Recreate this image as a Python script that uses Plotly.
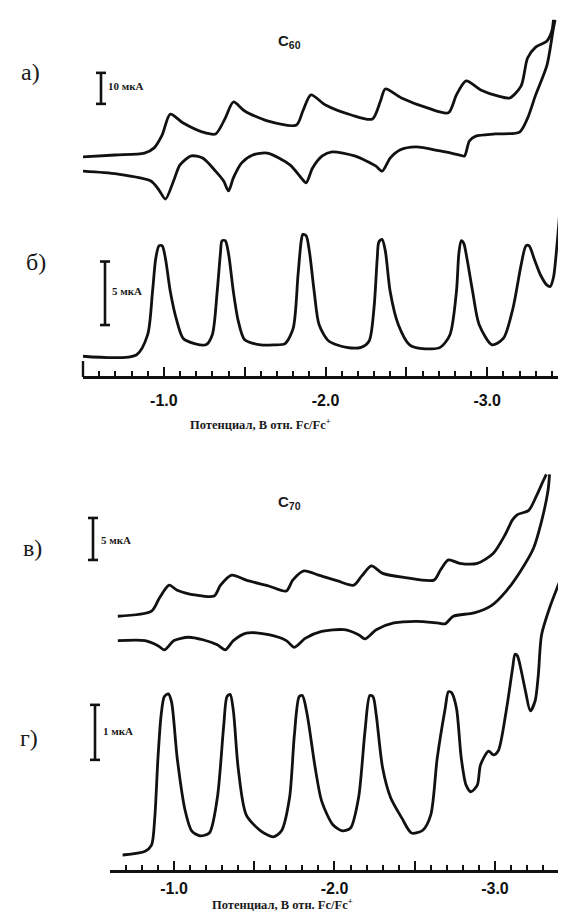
import plotly.graph_objects as go

W, H = 566, 911

# ---------------- data (potential, V vs Fc/Fc+; current, uA) ----------------
C60_CV_FWD_E = [-0.50, -0.70, -0.88, -0.94, -0.99, -1.04, -1.12, -1.24, -1.32, -1.38, -1.43, -1.50, -1.64, -1.82, -1.86,
                -1.91, -2.00, -2.16, -2.29, -2.34, -2.37, -2.47, -2.63, -2.76, -2.81, -2.87, -2.96, -3.07, -3.14, -3.21,
                -3.25, -3.30, -3.37, -3.40, -3.41]
C60_CV_FWD_I = [2.3, 2.9, 3.5, 5.2, 9.4, 16.1, 13.2, 10.3, 9.7, 14.8, 20.0, 17.1, 13.9, 12.6, 17.1,
                22.3, 19.0, 15.8, 14.5, 20.3, 24.2, 21.3, 18.1, 16.5, 22.3, 26.8, 23.9, 21.9, 21.3, 25.2,
                34.2, 37.7, 39.7, 42.9, 46.5]
C60_CV_REV_E = [-0.50, -0.71, -0.92, -0.97, -1.01, -1.06, -1.10, -1.17, -1.24, -1.32, -1.37, -1.40, -1.43, -1.48, -1.55,
                -1.64, -1.78, -1.85, -1.88, -1.92, -1.98, -2.04, -2.18, -2.31, -2.35, -2.40, -2.46, -2.56, -2.71, -2.83,
                -2.86, -2.89, -2.93, -3.05, -3.20, -3.25, -3.30, -3.37, -3.41, -3.42]
C60_CV_REV_I = [-2.3, -3.2, -5.5, -8.4, -11.3, -5.5, -0.3, 2.6, 1.9, -2.3, -5.5, -8.7, -4.5, 0.3, 2.9,
                3.5, -0.3, -4.5, -6.1, -1.3, 2.6, 3.9, 2.6, -0.6, -2.3, 1.9, 4.5, 5.5, 4.2, 2.9,
                2.6, 7.4, 9.0, 9.7, 10.3, 14.8, 22.3, 31.9, 43.9, 46.5]

C60_DPV_E = [-0.50, -0.83, -0.90, -0.93, -0.95, -0.97, -0.99, -1.01, -1.04, -1.08, -1.12, -1.19, -1.26,
             -1.30, -1.33, -1.35, -1.36, -1.38, -1.40, -1.43, -1.46, -1.50, -1.60, -1.68, -1.75,
             -1.80, -1.83, -1.85, -1.86, -1.88, -1.90, -1.93, -1.96, -2.02, -2.13, -2.22,
             -2.27, -2.30, -2.32, -2.33, -2.35, -2.37, -2.40, -2.45, -2.52, -2.60, -2.71,
             -2.77, -2.81, -2.825, -2.84, -2.855, -2.875, -2.91, -2.95, -3.03, -3.10,
             -3.16, -3.21, -3.24, -3.26, -3.29, -3.33, -3.37, -3.39, -3.41, -3.43, -3.45, -3.455]
C60_DPV_I = [-0.1, 0.0, 1.6, 5.0, 7.6, 8.6, 8.6, 7.6, 5.0, 2.7, 1.3, 0.9, 0.8,
             1.6, 5.0, 8.0, 9.0, 9.0, 8.0, 5.0, 2.7, 1.2, 0.8, 0.8, 0.9,
             2.1, 6.3, 9.0, 9.5, 9.4, 8.2, 5.0, 2.4, 1.1, 0.6, 0.6,
             1.1, 3.7, 7.6, 8.9, 9.1, 8.2, 5.0, 2.4, 0.8, 0.5, 0.6,
             1.6, 5.0, 8.0, 9.0, 8.8, 7.6, 5.0, 2.4, 0.8, 1.3,
             3.7, 7.1, 8.6, 8.6, 7.6, 6.3, 5.5, 5.4, 6.1, 8.4, 11.6, 15.5]

C70_CV_FWD_E = [-0.65, -0.86, -0.91, -0.97, -1.02, -1.14, -1.25, -1.29, -1.36, -1.45, -1.59, -1.70, -1.74, -1.81, -1.90,
                -2.02, -2.12, -2.17, -2.23, -2.30, -2.44, -2.62, -2.66, -2.71, -2.78, -2.89, -2.99, -3.06, -3.11, -3.14,
                -3.21, -3.26, -3.30, -3.32]
C70_CV_FWD_I = [1.4, 2.0, 3.6, 5.1, 4.5, 3.9, 3.8, 5.1, 6.3, 5.7, 5.0, 4.4, 5.7, 6.8, 6.3,
                5.6, 5.1, 6.2, 7.4, 6.5, 6.0, 5.7, 6.9, 8.1, 7.7, 7.7, 8.9, 11.0, 12.9, 13.5,
                14.0, 15.8, 17.5, 18.3]
C70_CV_REV_E = [-0.65, -0.82, -0.90, -0.94, -1.00, -1.09, -1.18, -1.27, -1.32, -1.37, -1.45, -1.59, -1.70, -1.75, -1.82,
                -1.92, -2.06, -2.15, -2.19, -2.26, -2.37, -2.51, -2.64, -2.69, -2.74, -2.87, -2.98, -3.07, -3.16, -3.24,
                -3.29, -3.33, -3.34]
C70_CV_REV_I = [-1.5, -1.5, -2.1, -2.6, -1.5, -1.1, -1.4, -2.0, -2.6, -1.5, -0.6, -0.8, -1.5, -2.3, -1.2,
                -0.4, -0.2, -0.8, -1.3, -0.2, 0.6, 0.8, 0.6, 0.5, 1.4, 1.8, 2.7, 4.4, 6.8, 9.5,
                12.7, 16.3, 18.3]

C70_DPV_E = [-0.68, -0.82, -0.86, -0.88, -0.90, -0.92, -0.94, -0.965, -0.985, -1.02, -1.07, -1.11, -1.16, -1.22, -1.27,
             -1.31, -1.33, -1.35, -1.37, -1.40, -1.45, -1.54, -1.62, -1.67, -1.72,
             -1.75, -1.78, -1.80, -1.83, -1.88, -1.92, -1.99, -2.05, -2.10, -2.15,
             -2.19, -2.22, -2.24, -2.26, -2.30, -2.35, -2.42, -2.48, -2.55, -2.60, -2.64,
             -2.69, -2.71, -2.73, -2.76, -2.79, -2.82, -2.85, -2.89, -2.91, -2.96, -2.99, -3.02, -3.07,
             -3.11, -3.125, -3.14, -3.16, -3.19, -3.22, -3.25, -3.27, -3.29, -3.34, -3.40]
C70_DPV_I = [0.0, 0.07, 0.18, 0.67, 1.76, 2.55, 2.88, 2.93, 2.78, 1.76, 0.80, 0.44, 0.35, 0.40, 1.04,
             2.36, 2.88, 2.92, 2.62, 1.58, 0.73, 0.44, 0.33, 0.44, 1.04,
             2.18, 2.88, 2.90, 2.55, 1.58, 0.98, 0.55, 0.44, 0.49, 1.04,
             2.25, 2.90, 2.88, 2.55, 1.58, 1.04, 0.67, 0.40, 0.45, 0.73, 1.76,
             2.67, 2.97, 2.95, 2.67, 1.76, 1.27, 1.15, 1.27, 1.64, 1.89, 1.82, 1.89, 2.62,
             3.40, 3.65, 3.62, 3.40, 2.98, 2.62, 2.80, 3.27, 4.00, 4.49, 4.95]

TICK_VALS = [-1.0, -1.5, -2.0, -2.5, -3.0]
TICK_TEXT = ["-1.0", "", "-2.0", "", "-3.0"]
PANEL_LABELS = ["а)", "б)", "в)", "г)"]
SCALE_LENGTHS = [10, 5, 5, 1]          # uA
SCALE_TEXT = ["10 мкА", "5 мкА", "5 мкА", "1 мкА"]
SCALE_BASES = [19.4, 2.36, 8.1, 1.73]  # uA, lower end of each scale bar
TITLES = ["C<sub>60</sub>", "C<sub>70</sub>"]
AXIS_TITLE = "Потенциал, В отн. Fc/Fc<sup>+</sup>"
X_RANGES = [[-0.5, -3.5], [-0.6, -3.45]]

# ---------------- layout helpers (pixel placement) ----------------
def px(x):
    return x / W

def py(y):
    return 1 - y / H

def yaxis_cfg(top, bottom, zero, ppu, anchor):
    return dict(domain=[py(bottom), py(top)],
                range=[(zero - bottom) / ppu, (zero - top) / ppu],
                visible=False, anchor=anchor, fixedrange=True)

LINE = "#111111"
lw = 2.8

fig = go.Figure()
def add(xs, ys, xa, ya):
    fig.add_trace(go.Scatter(x=xs, y=ys, xaxis=xa, yaxis=ya, mode="lines",
                             line=dict(color=LINE, width=lw, shape="spline", smoothing=0.75),
                             hoverinfo="skip", showlegend=False))

add(C60_CV_FWD_E, C60_CV_FWD_I, "x", "y")
add(C60_CV_REV_E, C60_CV_REV_I, "x", "y")
add(C60_DPV_E, C60_DPV_I, "x", "y2")
add(C70_CV_FWD_E, C70_CV_FWD_I, "x2", "y3")
add(C70_CV_REV_E, C70_CV_REV_I, "x2", "y3")
add(C70_DPV_E, C70_DPV_I, "x2", "y4")

def xaxis_cfg(dom, rng, pos_px, standoff):
    return dict(domain=dom, range=rng, anchor="free", position=py(pos_px),
                showline=True, linewidth=2.6, linecolor=LINE, showgrid=False, zeroline=False,
                ticks="inside", ticklen=9, tickwidth=2, tickcolor=LINE,
                tickmode="array", tickvals=TICK_VALS, ticktext=TICK_TEXT,
                minor=dict(dtick=0.1, tick0=0, ticks="inside", ticklen=5, tickwidth=1.6, tickcolor=LINE),
                tickfont=dict(family="Liberation Sans, Arial", size=16, color="#111111", weight="bold"),
                ticklabelstandoff=standoff, fixedrange=True)

fig.update_layout(
    width=W, height=H, margin=dict(l=0, r=0, t=0, b=0),
    paper_bgcolor="white", plot_bgcolor="rgba(0,0,0,0)", showlegend=False,
    xaxis=xaxis_cfg([px(75), px(560)], X_RANGES[0], 369, 8),
    xaxis2=xaxis_cfg([px(101.8), px(559.2)], X_RANGES[1], 863, 2),
    yaxis=yaxis_cfg(0, 215, 156, 3.1, "x"),
    yaxis2=yaxis_cfg(140, 360, 347, 12.7, "x"),
    yaxis3=yaxis_cfg(450, 660, 620, 8.4, "x2"),
    yaxis4=yaxis_cfg(560, 865, 847, 55, "x2"),
)

shapes = []
# tall end ticks of the upper axis
for xd in (0, 1):
    shapes.append(dict(type="line", xref="x domain", yref="paper", x0=xd, x1=xd,
                       y0=py(369), y1=py(353), line=dict(color=LINE, width=2.4)))

# scale bars
bar_x = [93, 97, 85, 87]
yrefs = ["y", "y2", "y3", "y4"]
label_pos = [(98, 78), (102, 283), (91, 532), (93, 723)]
for i in range(4):
    b0 = SCALE_BASES[i]
    b1 = b0 + SCALE_LENGTHS[i]
    xc = bar_x[i]
    shapes.append(dict(type="line", xref="paper", yref=yrefs[i], x0=px(xc), x1=px(xc), y0=b0, y1=b1,
                       line=dict(color=LINE, width=2.6)))
    for yy in (b0, b1):
        shapes.append(dict(type="line", xref="paper", yref=yrefs[i], x0=px(xc - 5), x1=px(xc + 5), y0=yy, y1=yy,
                           line=dict(color=LINE, width=2.6)))
fig.update_layout(shapes=shapes)

ann = []
for i in range(4):
    lx, ly = label_pos[i]
    ann.append(dict(text="<b>" + SCALE_TEXT[i] + "</b>", x=px(lx), y=py(ly), xref="paper", yref="paper",
                    xanchor="left", yanchor="middle", showarrow=False,
                    font=dict(family="Liberation Serif, Times New Roman", size=11, color="#1a1a1a")))

letter_pos = [(22, 64), (28, 254), (24, 540), (21, 730)]
for i in range(4):
    lx, ly = letter_pos[i]
    ann.append(dict(text=PANEL_LABELS[i], x=px(lx), y=py(ly), xref="paper", yref="paper",
                    xanchor="center", yanchor="middle", showarrow=False,
                    font=dict(family="Liberation Serif, Times New Roman", size=24, color="#1a1a1a")))

for t, (tx, ty) in zip(TITLES, [(281, 33), (281, 494)]):
    ann.append(dict(text="<b>" + t + "</b>", x=px(tx), y=py(ty), xref="paper", yref="paper",
                    xanchor="center", yanchor="middle", showarrow=False,
                    font=dict(family="Liberation Sans, Arial", size=15, color="#1a1a1a")))

for tx, ty in [(252, 416), (274, 896)]:
    ann.append(dict(text="<b>" + AXIS_TITLE + "</b>", x=px(tx), y=py(ty), xref="paper", yref="paper",
                    xanchor="center", yanchor="middle", showarrow=False,
                    font=dict(family="Liberation Serif, Times New Roman", size=12.5, color="#1a1a1a")))
fig.update_layout(annotations=ann)

fig.write_html("out.html")
